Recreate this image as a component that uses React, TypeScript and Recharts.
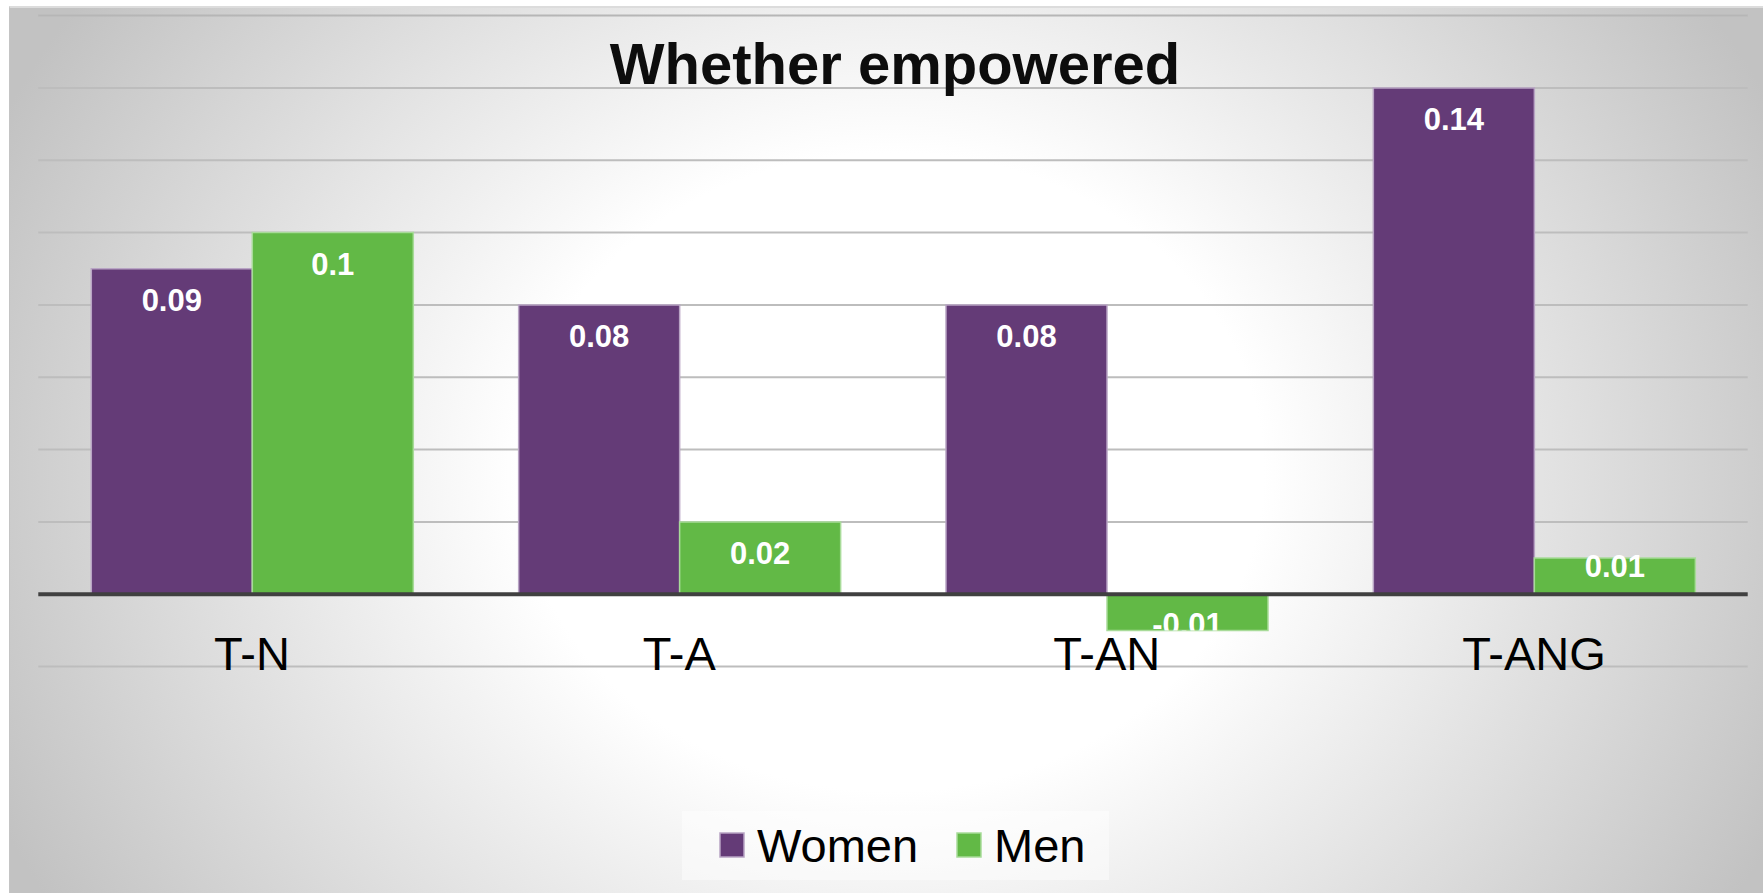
import React from "react";
import {
  Bar,
  BarChart,
  CartesianGrid,
  LabelList,
  ReferenceLine,
  XAxis,
  YAxis,
} from "recharts";

const categories = ["T-N", "T-A", "T-AN", "T-ANG"];
const womenValues = [0.09, 0.08, 0.08, 0.14];
const menValues = [0.1, 0.02, -0.01, 0.01];
const yTicks = [-0.02, 0, 0.02, 0.04, 0.06, 0.08, 0.1, 0.12, 0.14];
const Y_MIN = -0.02;
const Y_MAX = 0.16;

const TITLE = "Whether empowered";

const series = [
  { key: "women", name: "Women", fill: "#643B77", edge: "#b8a4c4" },
  { key: "men", name: "Men", fill: "#62B946", edge: "#a8db99" },
];

const W = 1763;
const H = 893;
const FONT = "'Liberation Sans', Arial, Helvetica, sans-serif";

const data = categories.map((category, i) => ({
  category,
  women: womenValues[i],
  men: menValues[i],
}));

function CategoryTick({ x, y, payload }: any) {
  return (
    <text
      x={x}
      y={y + 3.5}
      textAnchor="middle"
      fontFamily={FONT}
      fontSize={47}
      fill="#000"
    >
      {payload.value}
    </text>
  );
}

function ValueLabel(props: any) {
  const { x, y, width, height, value, index, seriesKey } = props;
  const top = Math.min(y, y + height);
  const bottom = Math.max(y, y + height);
  const cx = x + width / 2;
  const common = {
    x: cx,
    textAnchor: "middle" as const,
    fontFamily: FONT,
    fontSize: 31,
    fontWeight: 700,
    fill: "#ffffff",
  };

  if (value < 0) {
    // negative bars: label sits at the far end and is cut by the bar edge
    const clipId = `clip-${seriesKey}-${index}`;
    return (
      <g>
        <clipPath id={clipId}>
          <rect x={x} y={top} width={width} height={bottom - top} />
        </clipPath>
        <text {...common} y={bottom + 5} clipPath={`url(#${clipId})`}>
          {String(value)}
        </text>
      </g>
    );
  }

  const baseline = Math.min(top + 42, bottom - 17);
  return (
    <text {...common} y={baseline}>
      {String(value)}
    </text>
  );
}

function Overlay() {
  const legendX = [720, 957];
  return (
    <svg
      width={W}
      height={H}
      style={{ position: "absolute", left: 0, top: 0, pointerEvents: "none" }}
    >
      <text
        x={895}
        y={83.5}
        textAnchor="middle"
        fontFamily={FONT}
        fontSize={58}
        fontWeight={700}
        fill="#0d0d0d"
      >
        {TITLE}
      </text>

      <rect x={682} y={811} width={427} height={69} fill="rgba(255,255,255,0.45)" />
      {series.map((s, i) => (
        <g key={s.key}>
          <rect
            x={legendX[i]}
            y={833}
            width={24}
            height={24}
            fill={s.fill}
            stroke={s.edge}
            strokeWidth={1.5}
          />
          <text
            x={legendX[i] + 37}
            y={862}
            fontFamily={FONT}
            fontSize={47}
            fill="#000"
          >
            {s.name}
          </text>
        </g>
      ))}
    </svg>
  );
}

export default function App() {
  return (
    <div
      style={{
        position: "absolute",
        left: 0,
        top: 0,
        width: W,
        height: H,
        background: "#ffffff",
        overflow: "hidden",
      }}
    >
      <div
        style={{
          position: "absolute",
          left: 9,
          top: 6,
          width: W - 9,
          height: H - 6,
          boxSizing: "border-box",
          borderTop: "2px solid #dcdcdc",
          borderLeft: "1px solid #c4c4c4",
          background:
            "radial-gradient(ellipse 980px 840px at 881px 464px, #ffffff 38%, #c2c2c2 100%)",
        }}
      />
      <div style={{ position: "absolute", left: 0, top: 0 }}>
        <BarChart
          width={W}
          height={H}
          data={data}
          margin={{ top: 15.6, right: 15.3, bottom: 166.4, left: 38.3 }}
          barSize={161}
          barGap={0}
        >
          <CartesianGrid vertical={false} stroke="#bdbdbd" strokeWidth={2} />
          <XAxis
            dataKey="category"
            height={60}
            axisLine={false}
            tickLine={false}
            tickSize={0}
            tickMargin={0}
            interval={0}
            tick={<CategoryTick />}
          />
          <YAxis
            hide
            type="number"
            domain={[Y_MIN, Y_MAX]}
            ticks={yTicks}
            allowDataOverflow
          />
          <ReferenceLine y={Y_MAX} stroke="rgba(0,0,0,0.035)" strokeWidth={2} />
          {series.map((s) => (
            <Bar
              key={s.key}
              dataKey={s.key}
              name={s.name}
              fill={s.fill}
              stroke={s.edge}
              strokeWidth={1.5}
              isAnimationActive={false}
            >
              <LabelList
                dataKey={s.key}
                content={(p: any) => <ValueLabel {...p} seriesKey={s.key} />}
              />
            </Bar>
          ))}
          <ReferenceLine y={0} stroke="#404040" strokeWidth={4} />
        </BarChart>
      </div>
      <Overlay />
    </div>
  );
}
